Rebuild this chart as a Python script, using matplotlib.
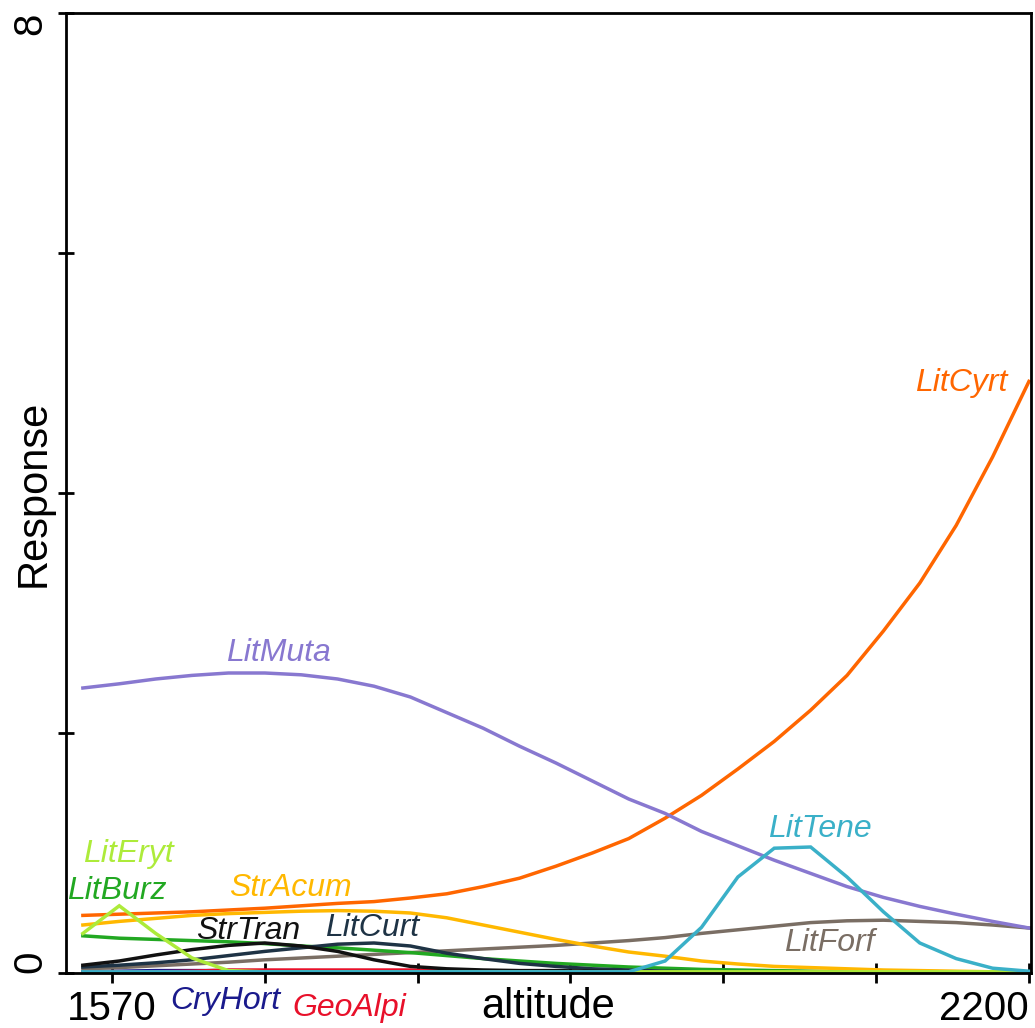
import matplotlib
matplotlib.use("Agg")
import matplotlib.pyplot as plt

plt.rcParams['font.family'] = ['Liberation Sans', 'DejaVu Sans']

# altitude grid (m)
altitude = [1550, 1575, 1600, 1625, 1650, 1675, 1700, 1725, 1750, 1775, 1800,
            1825, 1850, 1875, 1900, 1925, 1950, 1975, 2000, 2025, 2050, 2075,
            2100, 2125, 2150, 2175, 2200]

# fitted responses
lit_cyrt = [0.48, 0.49, 0.50, 0.51, 0.525, 0.54, 0.56, 0.58, 0.595, 0.625, 0.66,
            0.72, 0.79, 0.89, 1.00, 1.12, 1.29, 1.48, 1.70, 1.93, 2.19, 2.48,
            2.85, 3.25, 3.73, 4.30, 4.93]
lit_muta = [2.375, 2.41, 2.45, 2.48, 2.50, 2.50, 2.485, 2.45, 2.39, 2.30, 2.17,
            2.04, 1.89, 1.75, 1.60, 1.45, 1.33, 1.18, 1.06, 0.94, 0.83, 0.72,
            0.63, 0.555, 0.49, 0.43, 0.375]
lit_tene = [0.01, 0.01, 0.01, 0.01, 0.01, 0.01, 0.01, 0.01, 0.01, 0.01, 0.01,
            0.01, 0.01, 0.01, 0.01, 0.01, 0.10, 0.38, 0.80, 1.04, 1.05, 0.80,
            0.51, 0.25, 0.12, 0.04, 0.015]
lit_forf = [0.035, 0.045, 0.06, 0.075, 0.09, 0.11, 0.125, 0.14, 0.155, 0.17, 0.185,
            0.20, 0.215, 0.23, 0.25, 0.27, 0.295, 0.33, 0.36, 0.39, 0.42, 0.435,
            0.44, 0.43, 0.42, 0.40, 0.375]
str_acum = [0.40, 0.43, 0.455, 0.48, 0.495, 0.505, 0.515, 0.52, 0.515, 0.50, 0.46,
            0.40, 0.34, 0.28, 0.225, 0.175, 0.14, 0.10, 0.075, 0.055, 0.045, 0.035,
            0.025, 0.02, 0.015, 0.01, 0.01]
lit_burz = [0.31, 0.29, 0.28, 0.27, 0.26, 0.245, 0.225, 0.21, 0.19, 0.17, 0.145,
            0.12, 0.10, 0.08, 0.065, 0.05, 0.04, 0.03, 0.025, 0.02, 0.015, 0.01,
            0.01, 0.01, 0.005, 0.005, 0.005]
lit_eryt = [0.33, 0.56, 0.33, 0.125, 0.02, 0.01, 0.01, 0.01, 0.01, 0.01, 0.01,
            0.01, 0.01, 0.01, 0.01, 0.01, 0.01, 0.01, 0.01, 0.01, 0.01, 0.01,
            0.01, 0.01, 0.01, 0.01, 0.01]
str_tran = [0.065, 0.10, 0.15, 0.195, 0.23, 0.25, 0.225, 0.18, 0.11, 0.055, 0.035,
            0.025, 0.02, 0.02, 0.015, 0.01, 0.01, 0.01, 0.01, 0.005, 0.005, 0.005,
            0.005, 0.005, 0.005, 0.005, 0.005]
lit_curt = [0.05, 0.065, 0.085, 0.11, 0.145, 0.18, 0.21, 0.24, 0.25, 0.225, 0.165,
            0.12, 0.08, 0.055, 0.035, 0.025, 0.015, 0.01, 0.01, 0.01, 0.01, 0.01,
            0.01, 0.01, 0.01, 0.01, 0.01]
cry_hort = [0.01, 0.015, 0.02, 0.02, 0.02, 0.015, 0.01, 0.01, 0.01, 0.01, 0.01,
            0.01, 0.01, 0.01, 0.01, 0.01, 0.01, 0.01, 0.01, 0.01, 0.01, 0.01,
            0.01, 0.01, 0.01, 0.01, 0.01]
geo_alpi = [0.01, 0.01, 0.01, 0.015, 0.025, 0.025, 0.025, 0.025, 0.025, 0.025, 0.02,
            0.01, 0.01, 0.01, 0.01, 0.01, 0.01, 0.01, 0.01, 0.01, 0.01, 0.01,
            0.01, 0.01, 0.01, 0.01, 0.01]

x_ticks = [1570, 1675, 1780, 1885, 1990, 2095, 2200]
x_tick_labels = ['1570', '', '', '', '', '', '2200']
y_ticks = [0, 2, 4, 6, 8]
y_tick_labels = ['0', '', '', '', '8']

# name, values, colour, label position (altitude, response)
species = [
    ('CryHort', cry_hort, '#1a1a8c', (1647.6, -0.2375)),
    ('GeoAlpi', geo_alpi, '#e8102a', (1732.8, -0.29)),
    ('LitForf', lit_forf, '#7a6e64', (2062.9, 0.246)),
    ('LitBurz', lit_burz, '#22a822', (1573.1, 0.683)),
    ('LitCurt', lit_curt, '#1e3345', (1749.0, 0.375)),
    ('StrTran', str_tran, '#111111', (1663.8, 0.354)),
    ('LitCyrt', lit_cyrt, '#ff6600', (2153.6, 4.92)),
    ('StrAcum', str_acum, '#ffb800', (1692.3, 0.7125)),
    ('LitMuta', lit_muta, '#8878d0', (1684.4, 2.667)),
    ('LitEryt', lit_eryt, '#adeb3a', (1581.0, 0.99)),
    ('LitTene', lit_tene, '#3ab0c8', (2056.0, 1.204)),
]

fig = plt.figure(figsize=(10.35, 10.28), dpi=100)
ax = fig.add_axes([66/1035, 55/1028, 965/1035, 960/1028])

for name, vals, col, pos in species:
    ax.plot(altitude, vals, color=col, lw=2.5, solid_joinstyle='miter')
    ax.text(pos[0], pos[1], name, color=col, fontsize=23, style='italic',
            ha='center', va='center')

ax.set_xlim(1538.4, 2201.4)
ax.set_ylim(0, 8)

for s in ax.spines.values():
    s.set_linewidth(2)

ax.set_xticks(x_ticks, x_tick_labels, fontsize=29)
ax.set_yticks(y_ticks, y_tick_labels, fontsize=29, rotation=90)
ax.tick_params(axis='x', direction='inout', length=14, width=2, pad=5)
ax.tick_params(axis='y', direction='inout', length=12, width=2, pad=6)

xl = ax.get_xticklabels()
xl[-1].set_ha('right')
yl = ax.get_yticklabels()
for lbl in yl:
    lbl.set_ha('right')
yl[0].set_va('bottom')
yl[-1].set_va('top')

ax.set_xlabel('altitude', fontsize=30)
ax.xaxis.set_label_coords(0.5, -14/960)
ax.set_ylabel('Response', fontsize=30)
ax.yaxis.set_label_coords(-12.5/965, 0.5)

fig.savefig('out.png', dpi=100)
